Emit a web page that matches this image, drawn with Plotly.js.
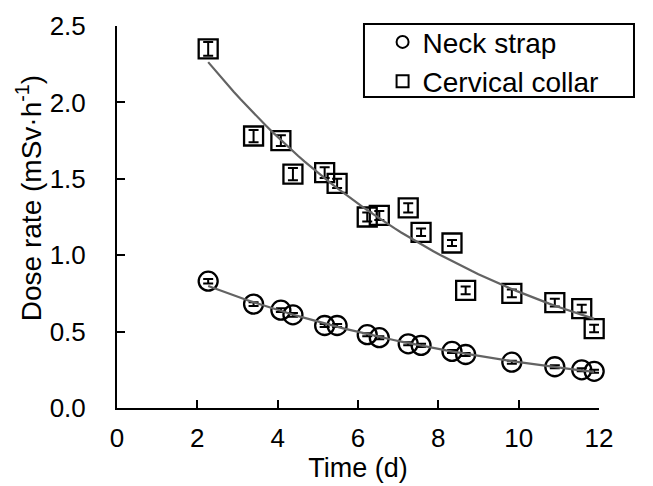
<!DOCTYPE html>
<html>
<head>
<meta charset="utf-8">
<script src="https://cdn.plot.ly/plotly-3.0.1.min.js"></script>
<style>html,body{margin:0;padding:0;background:#fff;}#chart{width:653px;height:486px;}</style>
</head>
<body>
<div id="chart"></div>
<script>
// Time (d)
var timeDays = [2.27, 3.40, 4.08, 4.38, 5.17, 5.48, 6.23, 6.53, 7.25, 7.57, 8.34, 8.68, 9.83, 10.90, 11.57, 11.88];
// Neck strap dose rate (mSv/h)
var neckStrap = [0.83, 0.68, 0.64, 0.61, 0.54, 0.54, 0.48, 0.46, 0.42, 0.41, 0.37, 0.35, 0.30, 0.27, 0.25, 0.24];
var neckStrapErr = [0.015, 0.012, 0.012, 0.012, 0.01, 0.01, 0.01, 0.01, 0.01, 0.01, 0.01, 0.01, 0.01, 0.01, 0.01, 0.01];
// Cervical collar dose rate (mSv/h)
var cervicalCollar = [2.35, 1.78, 1.75, 1.53, 1.54, 1.47, 1.25, 1.26, 1.31, 1.15, 1.08, 0.77, 0.75, 0.69, 0.65, 0.52];
var cervicalCollarErr = [0.045, 0.04, 0.035, 0.04, 0.035, 0.03, 0.03, 0.03, 0.03, 0.025, 0.02, 0.025, 0.025, 0.025, 0.025, 0.025];

var xTicks = [0, 2, 4, 6, 8, 10, 12];
var yTicks = [0, 0.5, 1.0, 1.5, 2.0, 2.5];
var xTitle = 'Time (d)';
var yTitle = 'Dose rate (mSv·h<sup>-1</sup>)';

// Exponential trendline (least squares on ln y), as a spreadsheet trendline does
function expFit(xs, ys) {
  var n = xs.length, sx = 0, sy = 0, sxx = 0, sxy = 0;
  for (var i = 0; i < n; i++) {
    var ly = Math.log(ys[i]);
    sx += xs[i]; sy += ly; sxx += xs[i] * xs[i]; sxy += xs[i] * ly;
  }
  var b = (n * sxy - sx * sy) / (n * sxx - sx * sx);
  var a = Math.exp((sy - b * sx) / n);
  var x0 = Math.min.apply(null, xs), x1 = Math.max.apply(null, xs);
  var fx = [], fy = [];
  for (var k = 0; k <= 60; k++) {
    var x = x0 + (x1 - x0) * k / 60;
    fx.push(x); fy.push(a * Math.exp(b * x));
  }
  return {x: fx, y: fy};
}
var neckFit = expFit(timeDays, neckStrap);
var collarFit = expFit(timeDays, cervicalCollar);

var FONT = 'Liberation Sans, Arial, sans-serif';
var traces = [
  {
    x: timeDays, y: neckStrap, name: 'Neck strap', type: 'scatter', mode: 'markers', cliponaxis: false,
    marker: {symbol: 'circle-open', size: 19, color: '#000', line: {width: 2.3, color: '#000'}},
    error_y: {type: 'data', array: neckStrapErr, visible: true, color: '#000', thickness: 2, width: 5}
  },
  {
    x: timeDays, y: cervicalCollar, name: 'Cervical collar', type: 'scatter', mode: 'markers', cliponaxis: false,
    marker: {symbol: 'square-open', size: 19, color: '#000', line: {width: 2.3, color: '#000'}},
    error_y: {type: 'data', array: cervicalCollarErr, visible: true, color: '#000', thickness: 2, width: 5}
  },
  {
    x: neckFit.x, y: neckFit.y, type: 'scatter', mode: 'lines', showlegend: false, hoverinfo: 'skip',
    line: {color: '#636363', width: 2.2}
  },
  {
    x: collarFit.x, y: collarFit.y, type: 'scatter', mode: 'lines', showlegend: false, hoverinfo: 'skip',
    line: {color: '#636363', width: 2.2}
  }
];

var layout = {
  width: 653, height: 486,
  margin: {l: 117, r: 54, t: 26, b: 78},
  paper_bgcolor: '#fff', plot_bgcolor: '#fff',
  font: {family: FONT, size: 26, color: '#000'},
  showlegend: true,
  legend: {
    x: 0.551, xanchor: 'left', y: 1.023, yanchor: 'top',
    bgcolor: 'rgba(0,0,0,0)', borderwidth: 0,
    font: {family: FONT, size: 28, color: '#000'},
    itemsizing: 'constant', tracegroupgap: 0
  },
  xaxis: {
    range: [0, 12], tickvals: xTicks, ticktext: xTicks.map(String),
    showgrid: false, zeroline: false, showline: true, linecolor: '#000', linewidth: 2,
    ticks: 'inside', ticklen: 8, tickwidth: 2, tickcolor: '#000',
    ticklabelstandoff: 6,
    tickfont: {family: FONT, size: 26, color: '#000'},
    title: {text: xTitle, font: {family: FONT, size: 27, color: '#000'}, standoff: 6}
  },
  yaxis: {
    range: [0, 2.5], tickvals: yTicks, ticktext: yTicks.map(function (v) { return v.toFixed(1); }),
    showgrid: false, zeroline: false, showline: true, linecolor: '#000', linewidth: 2,
    ticks: 'inside', ticklen: 8, tickwidth: 2, tickcolor: '#000',
    ticklabelstandoff: 24,
    tickfont: {family: FONT, size: 26, color: '#000'}
  },
  annotations: [{
    text: yTitle, xref: 'paper', yref: 'paper', x: -0.182, y: 0.550,
    xanchor: 'center', yanchor: 'middle', textangle: -90, showarrow: false,
    font: {family: FONT, size: 28, color: '#000'}
  }],
  shapes: [{
    type: 'rect', xref: 'paper', yref: 'paper',
    x0: 0.5124, x1: 1.0726, y0: 0.814, y1: 1.005,
    line: {color: '#000', width: 2}, fillcolor: 'rgba(0,0,0,0)'
  }]
};

Plotly.newPlot('chart', traces, layout, {staticPlot: true, displayModeBar: false});
</script>
</body>
</html>
